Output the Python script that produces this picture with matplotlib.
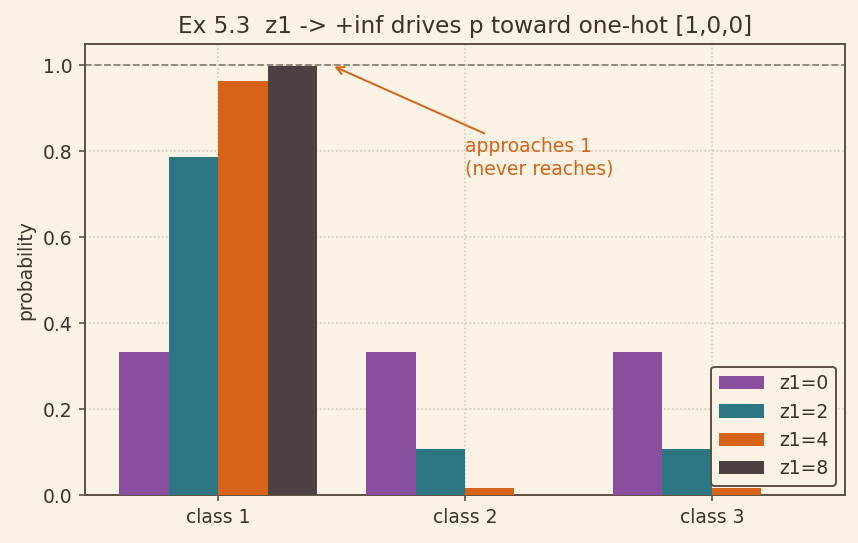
import numpy as np
import matplotlib.pyplot as plt

# softmax probabilities for logits [z1, 0, 0]
classes = ["class 1", "class 2", "class 3"]
z1_labels = ["z1=0", "z1=2", "z1=4", "z1=8"]
p_z0 = [0.3333, 0.3333, 0.3333]
p_z2 = [0.7870, 0.1065, 0.1065]
p_z4 = [0.9647, 0.0177, 0.0177]
p_z8 = [0.9993, 0.0003, 0.0003]

colors = ["#8a4e9f", "#2d7684", "#d66317", "#4b4140"]
bg = "#faf2e4"
ink = "#3b322c"
spine = "#5e5040"

plt.rcParams.update({
    "text.color": ink,
    "axes.labelcolor": ink,
    "xtick.color": spine,
    "ytick.color": spine,
    "xtick.labelcolor": ink,
    "ytick.labelcolor": ink,
    "font.size": 13.5,
    "xtick.major.size": 4.5,
    "ytick.major.size": 4.5,
    "xtick.major.width": 1.2,
    "ytick.major.width": 1.2,
    "xtick.major.pad": 4.5,
    "ytick.major.pad": 4.5,
})

fig, ax = plt.subplots(figsize=(8.58, 5.43), dpi=100)
fig.patch.set_facecolor(bg)
ax.set_facecolor(bg)

x = np.arange(len(classes))
width = 0.2
series = [p_z0, p_z2, p_z4, p_z8]
for i, (vals, lab) in enumerate(zip(series, z1_labels)):
    ax.bar(x + (i - 1.5) * width, vals, width, label=lab, color=colors[i], zorder=3)

ax.axhline(1.0, color="#8a8078", linestyle="--", linewidth=1.3, zorder=2)
ax.set_ylim(0, 1.05)
ax.set_xticks(x)
ax.set_xticklabels(classes)
ax.set_ylabel("probability", labelpad=5)
ax.set_title("Ex 5.3  z1 -> +inf drives p toward one-hot [1,0,0]", fontsize=16.7,
             color=ink, pad=8)
ax.grid(True, linestyle=":", color="#d0c6b3", linewidth=1.1, zorder=0)

for s in ax.spines.values():
    s.set_color(spine)
    s.set_linewidth(1.4)

ax.annotate("approaches 1\n(never reaches)", xy=(0.46, 1.0), xytext=(1.0, 0.785),
            color="#d66317", ha="left", va="center",
            arrowprops=dict(arrowstyle="->", color="#d66317", lw=1.4))

leg = ax.legend(loc="lower right", facecolor=bg, edgecolor=spine, framealpha=1.0,
                handlelength=2.4)
leg.get_frame().set_linewidth(1.4)

fig.subplots_adjust(left=0.099, right=0.985, top=0.919, bottom=0.088)
fig.savefig("out.png", dpi=100, facecolor=bg)
